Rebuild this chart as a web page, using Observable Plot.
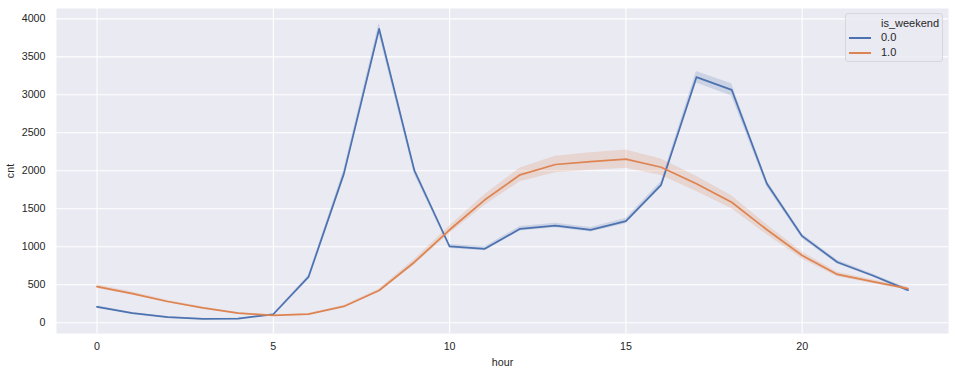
<!DOCTYPE html>
<html>
<head>
<meta charset="utf-8">
<script src="https://cdn.jsdelivr.net/npm/d3@7"></script>
<script src="https://cdn.jsdelivr.net/npm/@observablehq/plot@0.6"></script>
<style>
  html, body { margin: 0; padding: 0; background: #ffffff; }
  #wrap { position: relative; width: 955px; height: 374px; font-family: "Liberation Sans", Arial, sans-serif; color: #262626; }
  #legend { position: absolute; left: 845px; top: 13px; width: 98px; height: 49px; border: 1px solid #d6d6dc; border-radius: 3px; background: rgba(234,234,242,0.8); box-sizing: border-box; font-size: 11px; }
  #legend .title { position: absolute; left: 35px; top: 3px; }
  #legend .row { position: absolute; left: 3px; height: 14px; }
  #legend .sw { position: absolute; left: 0; top: 6px; width: 22px; height: 2px; }
  #legend .lab { position: absolute; left: 32px; top: 0; }
</style>
</head>
<body>
<div id="wrap">
  <div id="chart"></div>
  <div id="legend"></div>
</div>
<script>
const hours = [0,1,2,3,4,5,6,7,8,9,10,11,12,13,14,15,16,17,18,19,20,21,22,23];
const seriesNames = ["0.0", "1.0"];
const seriesColors = ["#4C72B0", "#DD8452"];
const legendTitle = "is_weekend";
const xTicks = [0,5,10,15,20];
const yTicks = [0,500,1000,1500,2000,2500,3000,3500,4000];

// mean counts
const weekdayCnt = [210,126,76,53,55,112,605,1960,3868,2004,1004,974,1237,1280,1224,1337,1816,3232,3066,1829,1140,797,622,430];
const weekendCnt = [475,385,280,197,126,96,115,215,425,797,1224,1618,1947,2083,2122,2153,2047,1829,1587,1224,886,636,543,450];
// half-width of confidence band
const weekdayCI = [15,10,6,4,4,8,20,50,75,50,25,25,30,30,30,35,40,75,80,40,30,25,20,20];
const weekendCI = [25,20,15,12,8,6,8,12,20,35,50,70,90,110,115,120,110,100,85,65,45,30,25,20];

const table = [
  ...hours.map((h, i) => ({hour: h, cnt: weekdayCnt[i], lo: weekdayCnt[i] - weekdayCI[i], hi: weekdayCnt[i] + weekdayCI[i], s: seriesNames[0]})),
  ...hours.map((h, i) => ({hour: h, cnt: weekendCnt[i], lo: weekendCnt[i] - weekendCI[i], hi: weekendCnt[i] + weekendCI[i], s: seriesNames[1]}))
];

const chart = Plot.plot({
  width: 955,
  height: 374,
  marginLeft: 56,
  marginRight: 7,
  marginTop: 8,
  marginBottom: 41,
  style: {fontFamily: "'Liberation Sans', Arial, sans-serif", fontSize: "10.7px", color: "#262626", background: "#ffffff"},
  x: {domain: [-1.15, 24.15]},
  y: {domain: [-141, 4136]},
  color: {domain: seriesNames, range: seriesColors},
  marks: [
    Plot.frame({fill: "#EAEAF2", stroke: null}),
    Plot.gridX(xTicks, {stroke: "#ffffff", strokeOpacity: 1, strokeWidth: 1.1}),
    Plot.gridY(yTicks, {stroke: "#ffffff", strokeOpacity: 1, strokeWidth: 1.1}),
    Plot.axisX(xTicks, {tickSize: 0, tickPadding: 9, tickFormat: d => String(d), label: "hour", labelAnchor: "center", labelOffset: 32, labelArrow: false, fontSize: "10.7px"}),
    Plot.axisY(yTicks, {tickSize: 0, tickPadding: 11, tickFormat: d => String(d), label: "cnt", labelAnchor: "center", labelOffset: 50, labelArrow: false, fontSize: "10.7px"}),
    Plot.areaY(table, {x: "hour", y1: "lo", y2: "hi", z: "s", fill: "s", fillOpacity: 0.2}),
    Plot.lineY(table, {x: "hour", y: "cnt", z: "s", stroke: "s", strokeWidth: 1.75})
  ]
});
document.getElementById("chart").appendChild(chart);

const lg = document.getElementById("legend");
const t = document.createElement("div");
t.className = "title"; t.textContent = legendTitle; lg.appendChild(t);
seriesNames.forEach((n, i) => {
  const r = document.createElement("div");
  r.className = "row"; r.style.top = (17 + i * 14.5) + "px";
  const sw = document.createElement("div"); sw.className = "sw"; sw.style.background = seriesColors[i];
  const lb = document.createElement("div"); lb.className = "lab"; lb.textContent = n;
  r.appendChild(sw); r.appendChild(lb); lg.appendChild(r);
});
</script>
</body>
</html>
